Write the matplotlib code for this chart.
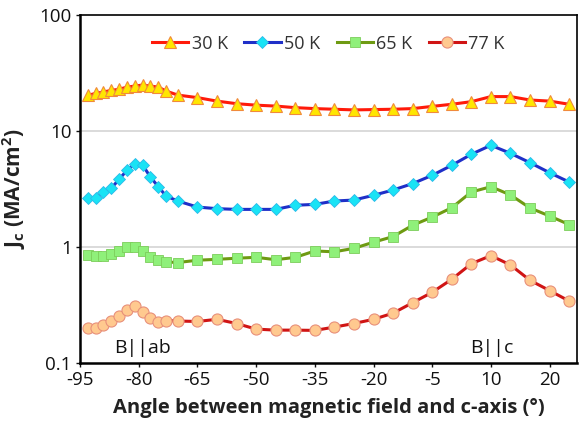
import matplotlib
matplotlib.use("Agg")
import matplotlib.pyplot as plt

plt.rcParams['font.family'] = ['Open Sans', 'DejaVu Sans']
plt.rcParams['mathtext.fontset'] = 'custom'
plt.rcParams['mathtext.rm'] = 'Open Sans'
plt.rcParams['mathtext.bf'] = 'Open Sans:bold'

# Measurement angles (deg)
angle = [-93, -91, -89, -87, -85, -83, -81, -79, -77, -75, -73,
         -70, -65, -60, -55, -50, -45, -40, -35, -30, -25, -20,
         -15, -10, -5, 0, 5, 10, 15, 20, 25, 30]

# Jc in MA/cm^2
jc_30k = [20.3, 21.1, 21.7, 22.4, 22.9, 23.9, 24.4, 24.9, 24.4, 23.9, 22.1,
          20.4, 19.4, 18.1, 17.2, 16.7, 16.4, 15.9, 15.6, 15.4, 15.2, 15.3,
          15.4, 15.6, 16.3, 17.0, 17.9, 19.8, 19.8, 18.5, 18.1, 17.0]
jc_50k = [2.66, 2.63, 2.98, 3.21, 3.84, 4.58, 5.23, 5.09, 4.01, 3.31, 2.75,
          2.49, 2.21, 2.14, 2.11, 2.11, 2.11, 2.29, 2.33, 2.49, 2.54, 2.79,
          3.10, 3.52, 4.15, 5.06, 6.30, 7.53, 6.42, 5.33, 4.37, 3.63]
jc_65k = [0.845, 0.836, 0.836, 0.87, 0.924, 1.0, 1.006, 0.918, 0.815, 0.773, 0.743,
          0.735, 0.769, 0.783, 0.80, 0.815, 0.777, 0.814, 0.924, 0.909, 0.974, 1.10,
          1.23, 1.54, 1.81, 2.18, 2.98, 3.31, 2.81, 2.17, 1.85, 1.56]
jc_77k = [0.1995, 0.200, 0.214, 0.230, 0.256, 0.287, 0.313, 0.274, 0.243, 0.224, 0.232,
          0.230, 0.228, 0.238, 0.219, 0.196, 0.192, 0.192, 0.191, 0.204, 0.219, 0.238,
          0.269, 0.331, 0.407, 0.527, 0.718, 0.843, 0.70, 0.516, 0.421, 0.342]

labels = ["30 K", "50 K", "65 K", "77 K"]
xticks = [-95, -80, -65, -50, -35, -20, -5, 10, 25]
xtick_labels = ["-95", "-80", "-65", "-50", "-35", "-20", "-5", "10", "20"]
yticks = [0.1, 1, 10, 100]
ytick_labels = ["0.1", "1", "10", "100"]

fig = plt.figure(figsize=(5.79, 4.26), dpi=100)
ax = fig.add_axes([80 / 579, 1 - 363 / 426, 497 / 579, 348 / 426])

ax.plot(angle, jc_30k, color='#ff1a0a', lw=2.2, marker='^', ms=8.5,
        mfc='#ffe600', mec='#f08a3c', mew=0.8, label=labels[0])
ax.plot(angle, jc_50k, color='#1f2fc8', lw=2.2, marker='D', ms=6,
        mfc='#19e3f5', mec='#2bb9e8', mew=0.6, label=labels[1])
ax.plot(angle, jc_65k, color='#6e9a12', lw=2.2, marker='s', ms=7,
        mfc='#8ff07a', mec='#7ccd5a', mew=0.6, label=labels[2])
ax.plot(angle, jc_77k, color='#d01414', lw=2.2, marker='o', ms=8,
        mfc='#ffc98f', mec='#e8907a', mew=0.8, label=labels[3])

ax.set_yscale('log')
ax.set_ylim(0.1, 100)
ax.set_xlim(-95, 32)
ax.set_xticks(xticks)
ax.set_xticklabels(xtick_labels)
ax.set_yticks(yticks)
ax.set_yticklabels(ytick_labels)
ax.minorticks_off()
ax.tick_params(labelsize=13.5, length=3, width=1, pad=3, colors='#111111')

# light horizontal grid at the decades
for v in [1, 10]:
    ax.axhline(v, color='#d4d4d4', lw=1.2, zorder=0)

for s in ax.spines.values():
    s.set_linewidth(1.2)
ax.spines['left'].set_linewidth(1.8)
ax.spines['bottom'].set_linewidth(1.8)

ax.text(-79, 0.135, "B||ab", fontsize=14, ha='center', va='center', color='#111111')
ax.text(10.3, 0.135, "B||c", fontsize=14, ha='center', va='center', color='#111111')

ax.set_xlabel("Angle between magnetic field and c-axis (°)", fontsize=14.5,
              fontweight='bold', color='#222222')
ax.xaxis.set_label_coords(0.5, -0.1)
ax.set_ylabel(r"$\mathbf{J_c}$ (MA/cm$^\mathbf{2}$)", fontsize=15,
              fontweight='bold', color='#222222')
ax.yaxis.set_label_coords(-0.105, 0.5)

ax.legend(loc='upper center', bbox_to_anchor=(0.5, 0.99), ncol=4, frameon=False,
          fontsize=13, handlelength=2.0, columnspacing=0.9, handletextpad=0.2,
          labelcolor='#333333')

fig.savefig("out.png", dpi=100)
